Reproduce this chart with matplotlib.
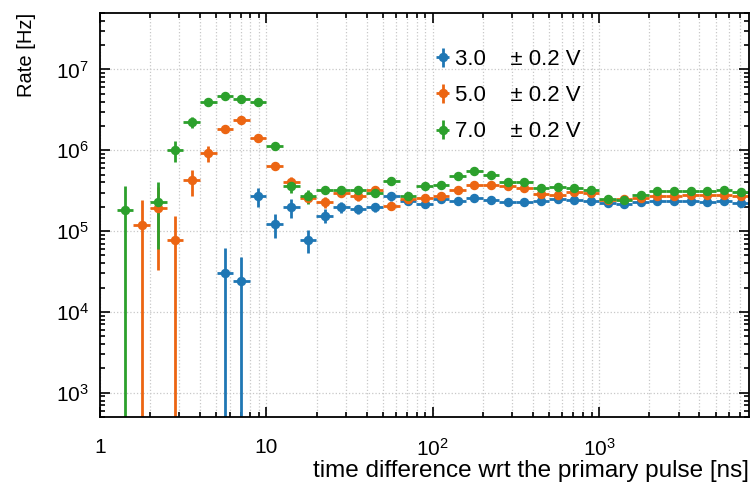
import matplotlib
matplotlib.use('Agg')
import matplotlib.pyplot as plt
import numpy as np
from matplotlib import ticker
from matplotlib.container import ErrorbarContainer
from matplotlib.legend_handler import HandlerErrorbar

plt.rcParams['font.family'] = ['Liberation Sans', 'DejaVu Sans']
plt.rcParams['mathtext.fontset'] = 'custom'
plt.rcParams['mathtext.rm'] = 'Liberation Sans'
plt.rcParams['mathtext.it'] = 'Liberation Sans:italic'
plt.rcParams['font.size'] = 15

# bin edges of the time-difference histogram (log bins, 0.1 decade)
bin_edges = 10 ** np.arange(0.1, 3.95, 0.1)

voltages = ['3.0', '5.0', '7.0']
colors = ['#1f77b4', '#ec6512', '#2ca02c']

rate_3v = [None, None, None, None, None, None,
           3.07e4, 2.42e4, 2.69e5, 1.22e5, 1.96e5, 7.8e4, 1.55e5, 1.96e5, 1.88e5, 1.99e5,
           2.69e5, 2.33e5, 2.18e5, 2.52e5, 2.33e5, 2.57e5, 2.4e5, 2.29e5, 2.29e5, 2.38e5,
           2.52e5, 2.43e5, 2.38e5, 2.23e5, 2.18e5, 2.26e5, 2.33e5, 2.33e5, 2.33e5, 2.29e5,
           2.36e5, 2.23e5]
err_3v = [None, None, None, None, None, None,
          3.1e4, 2.4e4, 7e4, 4e4, 5e4, 2.5e4, 3e4, 3e4, 2.5e4, 2.5e4,
          3e4, 2e4, 2e4, 2e4, 1.5e4, 1.5e4, 1.2e4, 1.2e4, 1e4, 1e4,
          1e4, 1e4, 1e4, 1e4, 1e4, 8e3, 8e3, 8e3, 8e3, 8e3,
          8e3, 8e3]

rate_5v = [None, 1.2e5, 1.93e5, 7.65e4, 4.25e5, 9.2e5, 1.84e6, 2.38e6, 1.42e6, 6.45e5,
           4.1e5, 2.6e5, 2.26e5, 3.0e5, 2.69e5, 3.19e5, 2.06e5, 2.49e5, 2.57e5, 2.74e5,
           3.25e5, 3.76e5, 3.76e5, 3.57e5, 3.41e5, 2.88e5, 2.82e5, 3.01e5, 2.96e5, 2.45e5,
           2.5e5, 2.6e5, 2.69e5, 2.69e5, 2.82e5, 2.82e5, 2.82e5, 2.74e5]
err_5v = [None, 1.2e5, 1.6e5, 7.6e4, 1.5e5, 2e5, 2.2e5, 2e5, 1.5e5, 8e4,
          6e4, 4e4, 3.5e4, 3.5e4, 3e4, 3e4, 2.5e4, 2e4, 2e4, 2e4,
          1.8e4, 1.8e4, 1.5e4, 1.5e4, 1.2e4, 1.2e4, 1.2e4, 1.2e4, 1e4, 1e4,
          1e4, 1e4, 1e4, 1e4, 1e4, 1e4, 1e4, 1e4]

rate_7v = [1.8e5, None, 2.3e5, 1.0e6, 2.25e6, 3.94e6, 4.68e6, 4.25e6, 3.94e6, 1.14e6,
           3.65e5, 2.69e5, 3.25e5, 3.25e5, 3.25e5, 2.96e5, 4.12e5, 2.74e5, 3.57e5, 3.72e5,
           4.85e5, 5.5e5, 5.0e5, 4.1e5, 4.0e5, 3.41e5, 3.47e5, 3.41e5, 3.25e5, 2.49e5,
           2.45e5, 2.82e5, 3.1e5, 3.1e5, 3.1e5, 3.1e5, 3.19e5, 3.05e5]
err_7v = [1.8e5, None, 1.7e5, 2.9e5, 3.5e5, 3e5, 3e5, 3e5, 2.5e5, 1.2e5,
          7e4, 5e4, 4e4, 4e4, 4e4, 3.5e4, 3.5e4, 2.5e4, 2.5e4, 2.5e4,
          2.5e4, 2.5e4, 2e4, 2e4, 1.5e4, 1.5e4, 1.5e4, 1.5e4, 1.2e4, 1.2e4,
          1.2e4, 1.2e4, 1.2e4, 1.2e4, 1.2e4, 1.2e4, 1.2e4, 1.2e4]

rates = [rate_3v, rate_5v, rate_7v]
errs = [err_3v, err_5v, err_7v]

centers = np.sqrt(bin_edges[:-1] * bin_edges[1:])
xerr = [centers - bin_edges[:-1], bin_edges[1:] - centers]

fig = plt.figure(figsize=(7.51, 4.92), dpi=100)
ax = fig.add_axes([0.1332, 0.1524, 0.8641, 0.8212])

for v, c, r, e in zip(voltages, colors, rates, errs):
    r = np.array(r, dtype=float)
    e = np.array(e, dtype=float)
    ax.errorbar(centers, r, yerr=e, xerr=xerr, fmt='o', color=c, ms=5.8,
                elinewidth=2, capsize=0, label=v + '    \u00b1 0.2 V')

ax.set_xscale('log')
ax.set_yscale('log')
ax.set_xlim(1, 10 ** 3.9)
ax.set_ylim(500, 5e7)

ax.set_xticks([1, 10, 100, 1000])
ax.set_xticklabels(['1', '10', '$10^2$', '$10^3$'])
ax.xaxis.set_minor_locator(ticker.LogLocator(base=10, subs=np.arange(2, 10)))
ax.xaxis.set_minor_formatter(ticker.NullFormatter())
ax.yaxis.set_major_locator(ticker.LogLocator(base=10, numticks=10))
ax.yaxis.set_minor_locator(ticker.LogLocator(base=10, subs=np.arange(2, 10), numticks=20))
ax.yaxis.set_minor_formatter(ticker.NullFormatter())

ax.tick_params(which='both', direction='in', top=True, right=True, width=1.2)
ax.tick_params(which='major', length=7, labelsize=15)
ax.tick_params(axis='x', which='major', pad=15)
ax.tick_params(axis='y', which='major', pad=8)
ax.tick_params(which='minor', length=3.5)
for s in ax.spines.values():
    s.set_linewidth(1.3)

ax.grid(which='major', axis='both', linestyle=':', color='#c8c8c8', linewidth=0.9)
ax.grid(which='minor', axis='x', linestyle=':', color='#c8c8c8', linewidth=0.9)
ax.set_axisbelow(True)

ax.set_xlabel('time difference wrt the primary pulse [ns]', loc='right', fontsize=17.5,
              labelpad=0)
ax.set_ylabel('Rate [Hz]', loc='top', fontsize=14.5, labelpad=14)

ax.legend(loc='upper left', bbox_to_anchor=(0.487, 0.96), frameon=False,
          handlelength=0.6, handletextpad=0.25, labelspacing=0.68, fontsize=16,
          handler_map={ErrorbarContainer: HandlerErrorbar(xerr_size=0.3, yerr_size=0.42)})

fig.savefig('out.png', dpi=100)
